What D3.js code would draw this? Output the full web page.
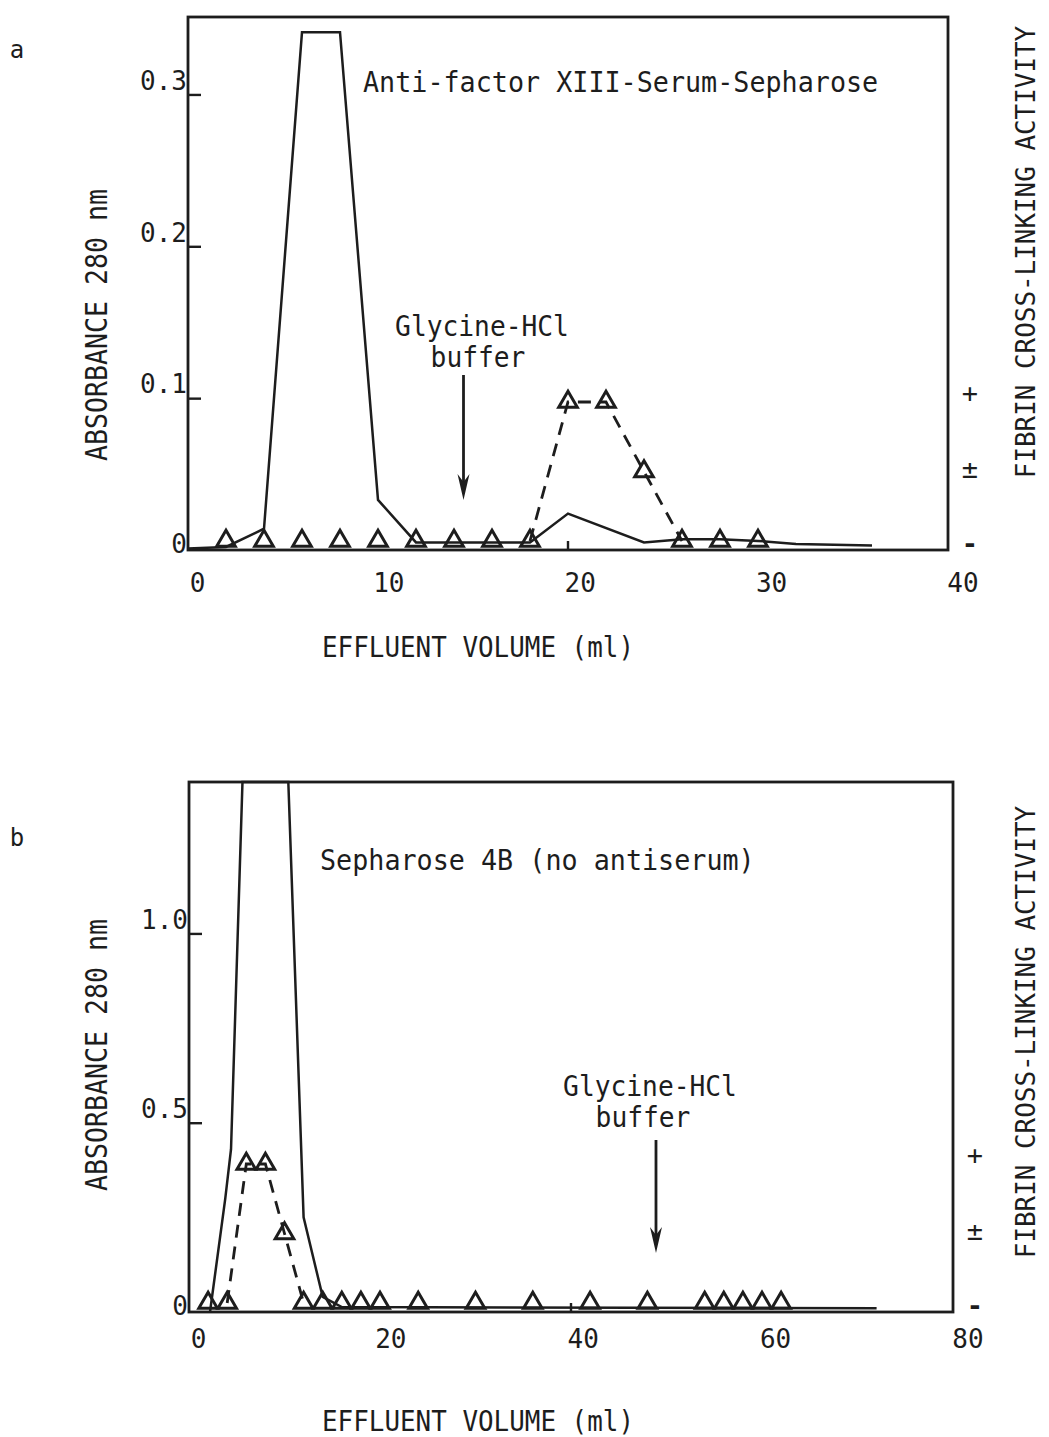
<!DOCTYPE html>
<html>
<head>
<meta charset="utf-8">
<script src="https://cdn.jsdelivr.net/npm/d3@7"></script>
<style>
  body { margin: 0; background: #fff; }
  text { font-family: "DejaVu Sans Mono", "Liberation Mono", monospace; fill: #1d1d1d; }
</style>
</head>
<body>
<svg id="fig" width="1049" height="1437"></svg>
<script>
// ---- Panel a: Anti-factor XIII-Serum-Sepharose ----
const volumeA = [0, 2, 4, 6, 8, 10, 12, 18, 20, 24, 26, 28, 30, 32, 36];
const absorbanceA = [0.001, 0.002, 0.014, 0.341, 0.341, 0.033, 0.005, 0.005, 0.024, 0.005, 0.007, 0.007, 0.006, 0.004, 0.003];
const fractionA = [2, 4, 6, 8, 10, 12, 14, 16, 18, 20, 22, 24, 26, 28, 30];
const activityA = [0, 0, 0, 0, 0, 0, 0, 0, 0, 2, 2, 1, 0, 0, 0];
const xTicksA = [0, 10, 20, 30, 40];
const yTicksA = [0, 0.1, 0.2, 0.3];
const yTickLabelsA = ["0", "0.1", "0.2", "0.3"];

// ---- Panel b: Sepharose 4B (no antiserum) ----
const volumeB = [2.2, 3.8, 4.4, 5.6, 10.4, 12, 14, 16, 72];
const absorbanceB = [0, 0.30, 0.43, 1.40, 1.40, 0.25, 0.04, 0.013, 0.01];
const fractionB = [2, 4, 6, 8, 10, 12, 14, 16, 18, 20, 24, 30, 36, 42, 48, 54, 56, 58, 60, 62];
const activityB = [0, 0, 2, 2, 1, 0, 0, 0, 0, 0, 0, 0, 0, 0, 0, 0, 0, 0, 0, 0];
const xTicksB = [0, 20, 40, 60, 80];
const yTicksB = [0, 0.5, 1.0];
const yTickLabelsB = ["0", "0.5", "1.0"];

// Activity scale categories (index = level)
const activityLevels = ["-", "\u00b1", "+"];

const svg = d3.select("#fig");
const ink = "#1d1d1d";

// Text squeezed to a fixed per-character pitch; rotated text is placed inside a
// translated/rotated group so its box stays where it is drawn.
function txt(g, str, x, y, size, charW, anchor = "middle", rotate = 0) {
  const holder = g.append("g").attr("transform", `translate(${x},${y}) rotate(${rotate})`);
  return holder.append("text")
    .attr("x", 0).attr("y", 0)
    .attr("font-size", size)
    .attr("text-anchor", anchor)
    .attr("dominant-baseline", "central")
    .attr("textLength", str.length * charW)
    .attr("lengthAdjust", "spacingAndGlyphs")
    .text(str);
}

function panel(cfg) {
  const g = svg.append("g");
  const x = d3.scaleLinear().domain([0, cfg.xMax]).range([cfg.left, cfg.right]);
  const y = d3.scaleLinear().domain([0, cfg.yMax]).range([cfg.bottom, cfg.top]);
  const yAct = d3.scaleLinear().domain([0, 2]).range([cfg.bottom - 9, cfg.bottom - 148]);

  // frame
  g.append("rect")
    .attr("x", cfg.left).attr("y", cfg.top)
    .attr("width", cfg.right - cfg.left).attr("height", cfg.bottom - cfg.top)
    .attr("fill", "none").attr("stroke", ink).attr("stroke-width", 2.8);

  // left axis: inward ticks, labels sitting above the ticks
  const yAxis = d3.axisLeft(y).tickValues(cfg.yTicks)
    .tickFormat((d, i) => cfg.yTickLabels[i]).tickSize(-13).tickPadding(0);
  const ya = g.append("g").attr("transform", `translate(${cfg.left},0)`).call(yAxis);
  ya.select(".domain").remove();
  ya.selectAll(".tick line").attr("stroke", ink).attr("stroke-width", 2.4)
    .filter(d => d === 0).remove();
  ya.selectAll(".tick text")
    .attr("x", -1)
    .attr("dy", d => d === 0 ? "0.1em" : "-0.2em")
    .attr("font-size", 26)
    .attr("font-family", "DejaVu Sans Mono")
    .attr("fill", ink);

  // bottom axis labels
  const xl = x.copy().range([cfg.left + cfg.labelShift, cfg.right + cfg.labelShift * 1.6]);
  const xAxis = d3.axisBottom(xl).tickValues(cfg.xTicks).tickSize(0).tickPadding(0);
  const xa = g.append("g").attr("transform", `translate(0,${cfg.bottom + cfg.xLabelDy})`).call(xAxis);
  xa.select(".domain").remove();
  xa.selectAll(".tick text")
    .attr("dy", "0.35em").attr("y", 0)
    .attr("font-size", 26)
    .attr("font-family", "DejaVu Sans Mono")
    .attr("fill", ink);

  // single small mid tick on baseline
  const mid = cfg.xTicks[2];
  g.append("line")
    .attr("x1", x(mid)).attr("x2", x(mid))
    .attr("y1", cfg.bottom - 9).attr("y2", cfg.bottom)
    .attr("stroke", ink).attr("stroke-width", 2.4);

  // right activity axis labels
  activityLevels.forEach((s, i) => {
    g.append("text")
      .attr("x", cfg.right + 22).attr("y", yAct(i) - (i === 2 ? 10 : i === 1 ? 3 : -2))
      .attr("font-size", 27).attr("text-anchor", "middle")
      .attr("dominant-baseline", "central")
      .attr("font-weight", i === 0 ? "bold" : "normal")
      .text(s);
  });

  // absorbance trace
  const line = d3.line().x(d => x(d[0])).y(d => y(d[1]));
  g.append("path")
    .datum(cfg.volume.map((v, i) => [v, cfg.absorbance[i]]))
    .attr("d", line)
    .attr("fill", "none").attr("stroke", ink).attr("stroke-width", 2.5)
    .attr("stroke-linejoin", "miter");

  // activity: dashed line over the active run plus its inactive neighbours
  const pts = cfg.fraction.map((v, i) => ({ v, a: cfg.activity[i] }));
  const active = pts.map((p, i) => p.a > 0 ? i : -1).filter(i => i >= 0);
  const lo = Math.max(0, d3.min(active) - 1), hi = Math.min(pts.length - 1, d3.max(active) + 1);
  const run = pts.slice(lo, hi + 1);
  g.append("path")
    .datum(run)
    .attr("d", d3.line().x(d => x(d.v)).y(d => yAct(d.a)))
    .attr("fill", "none").attr("stroke", ink).attr("stroke-width", 2.8)
    .attr("stroke-dasharray", "13,9");

  const tri = d3.symbol().type(d3.symbolTriangle).size(150);
  g.selectAll(".tri").data(pts).join("path")
    .attr("class", "tri")
    .attr("d", tri)
    .attr("transform", d => `translate(${x(d.v)},${yAct(d.a)})`)
    .attr("fill", "none").attr("stroke", ink).attr("stroke-width", 3)
    .attr("stroke-linejoin", "miter");

  // buffer change arrow
  const ax = x(cfg.arrowAt);
  g.append("line")
    .attr("x1", ax).attr("x2", ax)
    .attr("y1", cfg.arrowTop).attr("y2", cfg.arrowBottom - 14)
    .attr("stroke", ink).attr("stroke-width", 2.8);
  g.append("path")
    .attr("d", `M${ax - 6},${cfg.arrowBottom - 26} L${ax},${cfg.arrowBottom - 18} L${ax + 6},${cfg.arrowBottom - 26} L${ax},${cfg.arrowBottom} Z`)
    .attr("fill", ink);

  txt(g, "Glycine-HCl", cfg.glyX, cfg.glyY, 29, 15.8);
  txt(g, "buffer", cfg.bufX, cfg.glyY + 31, 29, 15.8);

  // column title
  txt(g, cfg.title, cfg.titleX, cfg.titleY, 29, 16.1, "start");

  // axis titles
  txt(g, "EFFLUENT VOLUME (ml)", 478, cfg.xTitleY, 29, 15.6);
  txt(g, "ABSORBANCE 280 nm", 96, cfg.yTitleY, 31, 16.0, "middle", -90);
  txt(g, "FIBRIN CROSS-LINKING ACTIVITY", 1025, cfg.rTitleY, 27, 15.6, "middle", -90);

  // panel letter
  g.append("text").attr("x", 17).attr("y", cfg.letterY)
    .attr("font-size", 24).attr("font-family", "Liberation Sans, Arial")
    .attr("text-anchor", "middle").attr("dominant-baseline", "central")
    .text(cfg.letter);
}

panel({
  letter: "a", letterY: 50,
  left: 188, right: 948, top: 17, bottom: 550,
  xMax: 40, yMax: 0.351, labelShift: 9, xLabelDy: 33,
  xTicks: xTicksA, yTicks: yTicksA, yTickLabels: yTickLabelsA,
  volume: volumeA, absorbance: absorbanceA,
  fraction: fractionA, activity: activityA,
  arrowAt: 14.5, arrowTop: 375, arrowBottom: 500,
  glyX: 482, glyY: 326, bufX: 478,
  title: "Anti-factor XIII-Serum-Sepharose", titleX: 363, titleY: 82,
  xTitleY: 647, yTitleY: 325, rTitleY: 252
});

panel({
  letter: "b", letterY: 838,
  left: 189, right: 953, top: 782, bottom: 1312,
  xMax: 80, yMax: 1.40, labelShift: 9, xLabelDy: 27,
  xTicks: xTicksB, yTicks: yTicksB, yTickLabels: yTickLabelsB,
  volume: volumeB, absorbance: absorbanceB,
  fraction: fractionB, activity: activityB,
  arrowAt: 48.9, arrowTop: 1140, arrowBottom: 1253,
  glyX: 650, glyY: 1086, bufX: 643,
  title: "Sepharose 4B (no antiserum)", titleX: 320, titleY: 860,
  xTitleY: 1421, yTitleY: 1055, rTitleY: 1032
});
</script>
</body>
</html>
